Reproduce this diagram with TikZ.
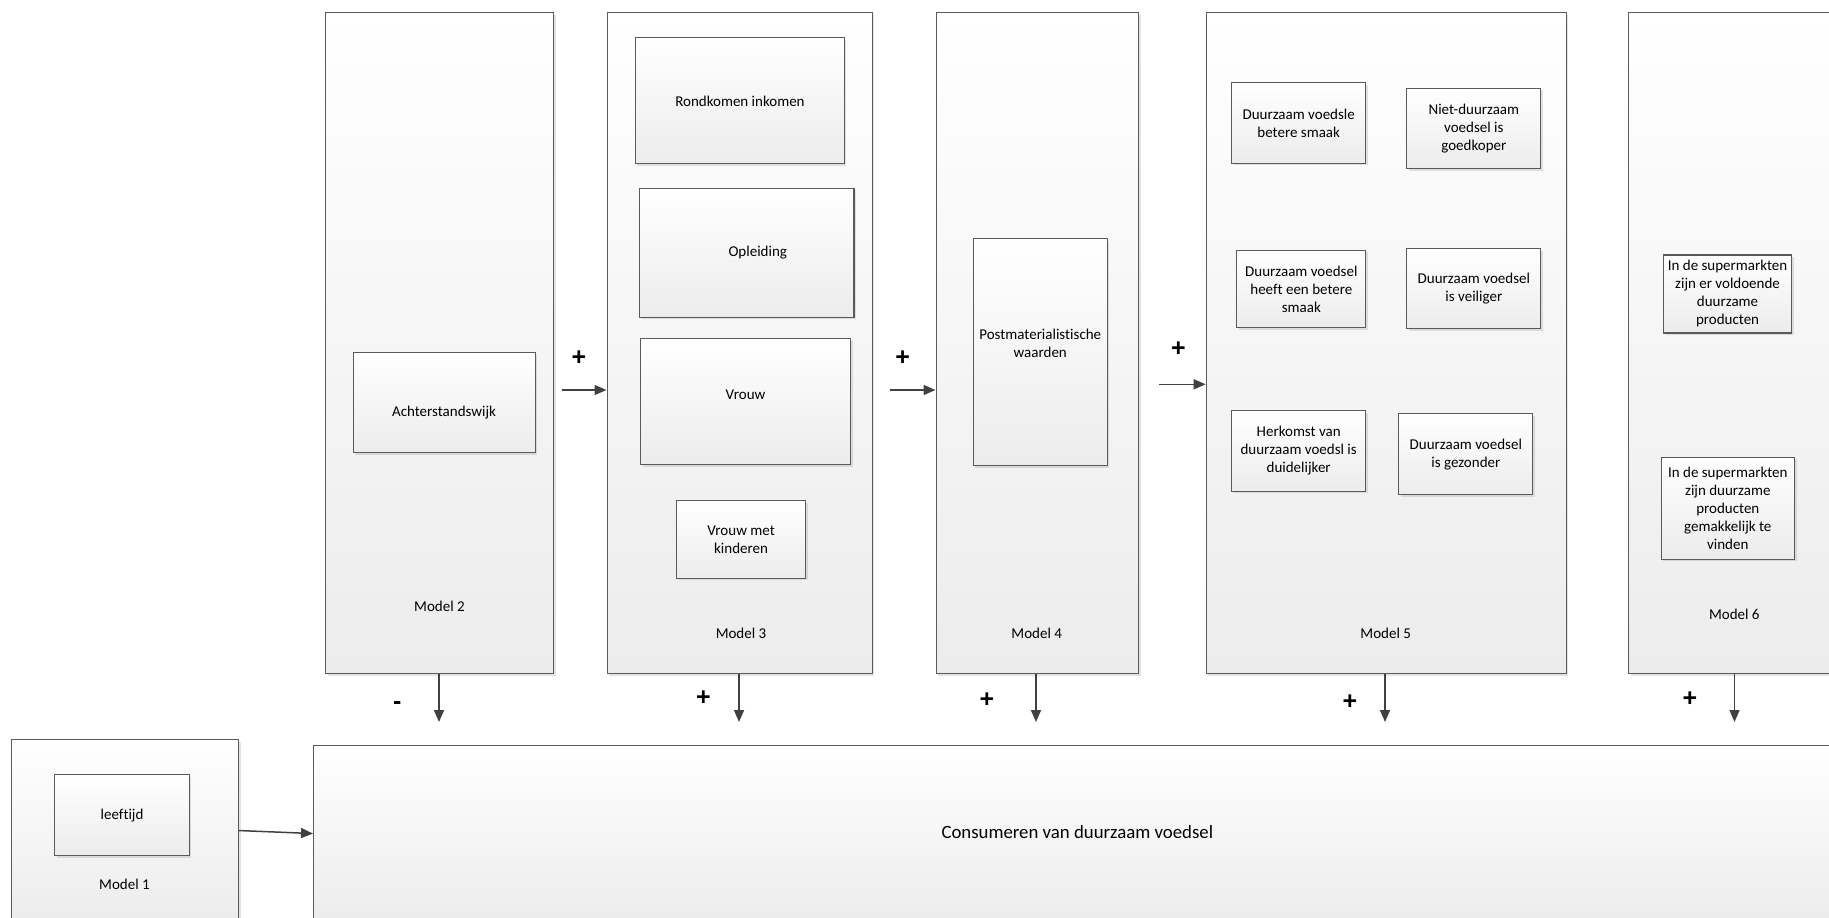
\documentclass[tikz,border=0pt]{standalone}
\usepackage{fontspec}
\setmainfont{Carlito}[Ligatures={NoCommon}]
\newfontfamily\signfont{Liberation Sans}
\usetikzlibrary{arrows.meta,shadows}
\definecolor{edgegray}{HTML}{5A5A5A}
\definecolor{arrgray}{HTML}{404040}
\definecolor{shadebot}{HTML}{ECECEC}
\tikzset{
  modelbox/.style={rectangle, draw=edgegray, line width=1.1pt, top color=white, bottom color=shadebot,
    inner sep=0pt, anchor=north west,
    drop shadow={shadow xshift=2pt, shadow yshift=-2pt, opacity=0.22, fill=gray}},
  itembox/.style={modelbox, align=center, font=\fontsize{15}{18}\selectfont},
  lab/.style={font=\fontsize{15}{18}\selectfont, inner sep=0pt},
  biglab/.style={font=\fontsize{18.8}{22}\selectfont, inner sep=0pt},
  sign/.style={font=\signfont\bfseries\fontsize{25}{25}\selectfont, inner sep=0pt},
  link/.style={draw=arrgray, line width=1.5pt, -{Triangle[length=12pt,width=10pt]}}
}
\begin{document}
\begin{tikzpicture}[x=1pt,y=-1pt]
\useasboundingbox (0,0) rectangle (1829,918);
\clip (0,0) rectangle (1829,918);
% outer model boxes
\node[modelbox, minimum width=227pt, minimum height=182pt] (m1) at (11,739) {};
\node[modelbox, minimum width=1560pt, minimum height=176pt] (cons) at (313,745) {};
\node[modelbox, minimum width=228pt, minimum height=661pt] (m2) at (325,12) {};
\node[modelbox, minimum width=265pt, minimum height=661pt] (m3) at (606.5,12) {};
\node[modelbox, minimum width=202.5pt, minimum height=661pt] (m4) at (935.5,12) {};
\node[modelbox, minimum width=360pt, minimum height=661pt] (m5) at (1205.7,12) {};
\node[modelbox, minimum width=250pt, minimum height=661pt] (m6) at (1628,12) {};
% labels of model boxes
\node[lab] (l1) at (124.5,884.3) {Model 1};
\node[lab] (l2) at (439.5,606) {Model 2};
\node[lab] (l3) at (741,633.3) {Model 3};
\node[lab] (l4) at (1036.7,633.3) {Model 4};
\node[lab] (l5) at (1385.7,633) {Model 5};
\node[lab] (l6) at (1734.3,614.7) {Model 6};
\node[biglab] (lc) at (1077.3,832.3) {Consumeren van duurzaam voedsel};
% inner items
\node[itembox, minimum width=134.4pt, minimum height=81pt] (leeftijd) at (54.3,774.3) {leeftijd};
\node[itembox, minimum width=182pt, minimum height=100.3pt] (achter) at (352.5,352) {\strut\\Achterstandswijk};
\node[itembox, minimum width=209pt, minimum height=126pt] (rond) at (634.9,37.3) {Rondkomen inkomen};
\node[itembox, minimum width=214.4pt, minimum height=129pt] (opl) at (639,187.7) {\hspace*{22pt}Opleiding};
\node[itembox, minimum width=210pt, minimum height=125.7pt] (vrouw) at (640,338.3) {Vrouw\\[-3pt]\mbox{}};
\node[itembox, minimum width=129pt, minimum height=77.4pt] (vmk) at (676,500.3) {Vrouw met\\kinderen};
\node[itembox, minimum width=134pt, minimum height=227pt] (post) at (972.7,238.3) {Postmaterialistische\\waarden\\\mbox{}};
\node[itembox, minimum width=134.3pt, minimum height=80.4pt] (d1) at (1231,82.3) {Duurzaam voedsle\\betere smaak};
\node[itembox, minimum width=134pt, minimum height=80.6pt] (d2) at (1406.3,87.7) {Niet-duurzaam\\voedsel is\\goedkoper};
\node[itembox, minimum width=129pt, minimum height=77.3pt] (d3) at (1236.3,249.7) {Duurzaam voedsel\\heeft een betere\\smaak};
\node[itembox, minimum width=134pt, minimum height=80.3pt] (d4) at (1406.3,248) {Duurzaam voedsel\\is veiliger};
\node[itembox, minimum width=134.3pt, minimum height=80.7pt] (d5) at (1231,410) {Herkomst van\\duurzaam voedsl is\\duidelijker};
\node[itembox, minimum width=134pt, minimum height=81pt] (d6) at (1398.3,413.3) {Duurzaam voedsel\\is gezonder};
\node[itembox, minimum width=128pt, minimum height=78pt] (s1) at (1663,254.4) {In de supermarkten\\zijn er voldoende\\duurzame\\producten};
\node[itembox, minimum width=133.5pt, minimum height=102pt] (s2) at (1660.5,456.5) {In de supermarkten\\zijn duurzame\\producten\\gemakkelijk te\\vinden};
% connectors
\draw[link] (m1.east) -- (cons.west);
\coordinate (s23) at (561.7,390);
\coordinate (s34) at (890,390);
\coordinate (s45) at (1159,384.3);
\draw[link] (s23) -- (m3.west |- s23);
\draw[link] (s34) -- (m4.west |- s34);
\draw[link] (s45) -- (m5.west |- s45);
\coordinate (t2) at (439,722);
\coordinate (t3) at (739,722);
\coordinate (t4) at (1036,722);
\coordinate (t5) at (1385,722);
\coordinate (t6) at (1734.5,722);
\draw[link] (t2 |- m2.south) -- (t2);
\draw[link] (t3 |- m3.south) -- (t3);
\draw[link] (t4 |- m4.south) -- (t4);
\draw[link] (t5 |- m5.south) -- (t5);
\draw[link] (t6 |- m6.south) -- (t6);
% signs
\node[sign] (p23) at (579,357.7) {+};
\node[sign] (p34) at (902.7,357.7) {+};
\node[sign] (p45) at (1178.3,349) {+};
\node[sign] (n2) at (397.3,702.3) {\vphantom{+}-};
\node[sign] (p3) at (703.3,698.3) {+};
\node[sign] (p4) at (987,700) {+};
\node[sign] (p5) at (1350,701.7) {+};
\node[sign] (p6) at (1690,699) {+};
\end{tikzpicture}
\end{document}
